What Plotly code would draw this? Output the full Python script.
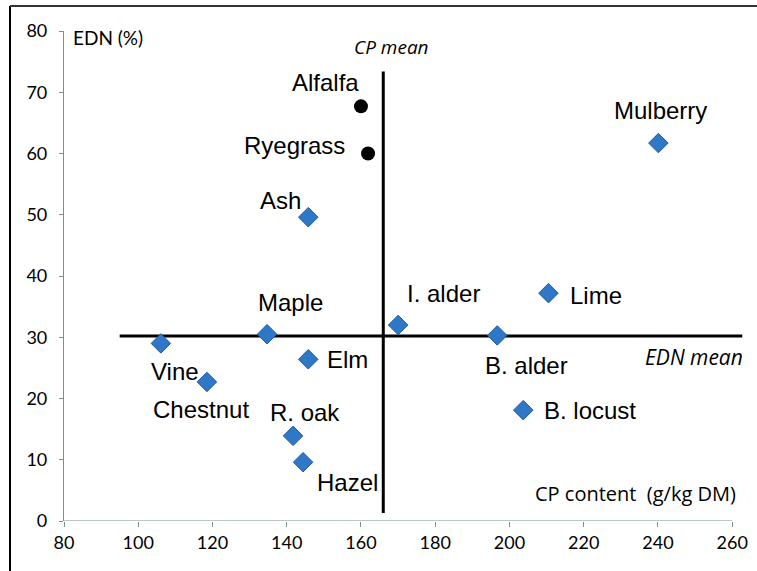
import plotly.graph_objects as go

# Data
tree_names = ["Ash", "Mulberry", "Lime", "I. alder", "B. alder", "B. locust",
              "Maple", "Vine", "Chestnut", "Elm", "R. oak", "Hazel"]
tree_cp = [145.8, 240.1, 210.5, 170.0, 196.7, 203.7, 134.7, 106.1, 118.5, 145.8, 141.7, 144.4]
tree_edn = [49.6, 61.7, 37.2, 32.0, 30.3, 18.1, 30.5, 29.0, 22.7, 26.4, 13.9, 9.6]

ref_names = ["Alfalfa", "Ryegrass"]
ref_cp = [160.0, 161.9]
ref_edn = [67.7, 60.0]

cp_mean = 166.0
edn_mean = 30.2
cp_mean_span = [1.3, 73.4]
edn_mean_span = [95.0, 262.7]

x_ticks = [80, 100, 120, 140, 160, 180, 200, 220, 240, 260]
y_ticks = [0, 10, 20, 30, 40, 50, 60, 70, 80]

# label offsets (pixels) and anchors
label_style = {
    "Ash": (-28, 17, "center"),
    "Mulberry": (2, 33, "center"),
    "Lime": (20, -2, "left"),
    "I. alder": (45, 32, "center"),
    "B. alder": (29, -30, "center"),
    "B. locust": (19, 0, "left"),
    "Maple": (23, 32, "center"),
    "Vine": (14, -28, "center"),
    "Chestnut": (-6, -28, "center"),
    "Elm": (17, 0, "left"),
    "R. oak": (12, 23, "center"),
    "Hazel": (44, -20, "center"),
    "Alfalfa": (0, 24, "right"),
    "Ryegrass": (-21, 8, "right"),
}

W, H = 757, 571
ML, MR, MT, MB = 64, 14, 31, 50
pw = W - ML - MR
ph = H - MT - MB

fig = go.Figure()

# mean lines
fig.add_trace(go.Scatter(x=[cp_mean, cp_mean], y=cp_mean_span, mode="lines",
                         line=dict(color="black", width=3), hoverinfo="skip", showlegend=False))
fig.add_trace(go.Scatter(x=edn_mean_span, y=[edn_mean, edn_mean], mode="lines",
                         line=dict(color="black", width=3), hoverinfo="skip", showlegend=False))

fig.add_trace(go.Scatter(x=tree_cp, y=tree_edn, mode="markers",
                         marker=dict(symbol="diamond", size=15, color="#2f78c8",
                                     line=dict(color="#1d5aa0", width=1)),
                         showlegend=False))
fig.add_trace(go.Scatter(x=ref_cp, y=ref_edn, mode="markers",
                         marker=dict(symbol="circle", size=14, color="black"),
                         showlegend=False))

label_font = dict(family="Liberation Sans, Arial, sans-serif", size=24, color="black")
for names, xs, ys in [(tree_names, tree_cp, tree_edn), (ref_names, ref_cp, ref_edn)]:
    for n, x, y in zip(names, xs, ys):
        dx, dy, anc = label_style[n]
        fig.add_annotation(x=x, y=y, text=n, showarrow=False, xshift=dx, yshift=dy,
                           xanchor=anc, yanchor="middle", font=label_font)

calib = "Lato, Carlito, Calibri, sans-serif"
wide = "Open Sans, Lato, sans-serif"
fig.add_annotation(x=80, y=80, text="EDN (%)", showarrow=False, xanchor="left", yanchor="middle",
                   xshift=7, yshift=-6, font=dict(family=calib, size=19, color="black"))
fig.add_annotation(x=cp_mean, y=cp_mean_span[1], text="<i>CP mean</i>", showarrow=False,
                   xanchor="center", yanchor="middle", xshift=8, yshift=24,
                   font=dict(family=wide, size=19, color="black"))
fig.add_annotation(x=edn_mean_span[1], y=edn_mean, text="<i>EDN mean</i>", showarrow=False,
                   xanchor="right", yanchor="middle", xshift=3, yshift=-21,
                   font=dict(family=wide, size=21, color="black"))
fig.add_annotation(x=260, y=0, text="CP content  (g/kg DM)", showarrow=False,
                   xanchor="right", yanchor="middle", xshift=6, yshift=28,
                   font=dict(family=wide, size=20, color="black"))

# x axis line (only from 80 to 260)
fig.add_shape(type="line", x0=80, x1=260, y0=0, y1=0, xref="x", yref="y",
              line=dict(color="#7d9090", width=1.2))

# outer frame (left and top edges)
fx = (10 - ML) / pw
fy = (H - MB - 6) / ph
fig.add_shape(type="line", xref="paper", yref="paper", x0=fx, x1=fx, y0=fy, y1=-0.2,
              line=dict(color="black", width=2))
fig.add_shape(type="line", xref="paper", yref="paper", x0=fx, x1=1.1, y0=fy, y1=fy,
              line=dict(color="#333333", width=2))

tick_font = dict(family=calib, size=18, color="black")
fig.update_layout(
    width=W, height=H,
    margin=dict(l=ML, r=MR, t=MT, b=MB, autoexpand=False),
    plot_bgcolor="white", paper_bgcolor="white",
    xaxis=dict(range=[80, 262.9], tickvals=x_ticks, ticktext=[str(v) for v in x_ticks],
               showgrid=False, zeroline=False, showline=False, ticks="outside",
               ticklen=5, tickcolor="#7d9090", tickfont=tick_font),
    yaxis=dict(range=[0, 80], tickvals=y_ticks, showgrid=False, zeroline=False,
               showline=True, linecolor="#7d9090", linewidth=1.2, ticks="outside",
               ticklen=4, tickcolor="#7d9090", tickfont=tick_font, ticklabelstandoff=8),
)

fig.write_html("out.html", config={"displayModeBar": False},
               post_script="document.body.style.margin='0px';document.body.style.overflow='hidden';")
